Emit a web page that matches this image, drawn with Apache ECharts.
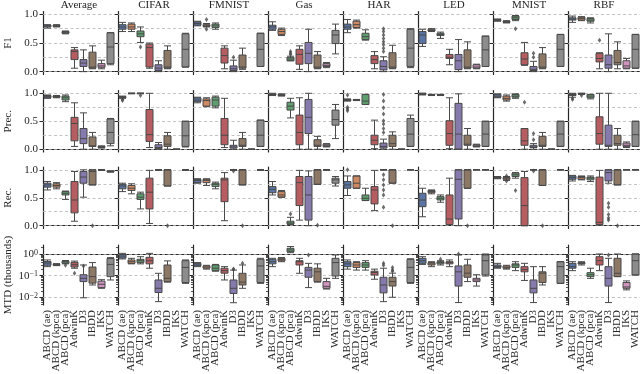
<!DOCTYPE html>
<html>
<head>
<meta charset="utf-8">
<script src="https://cdn.jsdelivr.net/npm/echarts@6/dist/echarts.min.js"></script>
<style>
  html, body { margin: 0; padding: 0; background: #fff; }
  #chart { width: 640px; height: 374px; }
</style>
</head>
<body>
<div id="chart"></div>
<script>
// columns of the figure and the detectors on each x axis
const datasets = ['Average', 'CIFAR', 'FMNIST', 'Gas', 'HAR', 'LED', 'MNIST', 'RBF'];
const methods = ['ABCD (ae)', 'ABCD (kpca)', 'ABCD (pca)', 'AdwinK', 'D3', 'IBDD', 'IKS', 'WATCH'];
const metrics = ['F1', 'Prec.', 'Rec.', 'MTD (thousands)'];
const linearTicks = [0, 0.5, 1];
const linearGrid = [0, 0.25, 0.5, 0.75, 1];
const logTicks = [0.01, 0.1, 1];
const logMinorTicks = [0.005, 0.006, 0.007, 0.008, 0.009, 0.02, 0.03, 0.04, 0.05, 0.06, 0.07, 0.08, 0.09,
  0.2, 0.3, 0.4, 0.5, 0.6, 0.7, 0.8, 0.9, 2];

// box = [min, Q1, median, Q3, max]; one row per dataset, one box per method (null = not run)
const f1 = [
  [[0.76,0.78,0.80,0.81,0.82],[0.78,0.79,0.80,0.81,0.82],[0.66,0.67,0.68,0.70,0.71],[0.06,0.21,0.35,0.38,0.42],[0.00,0.09,0.15,0.21,0.38],[0.05,0.06,0.08,0.34,0.45],[0.05,0.075,0.10,0.14,0.20],[0.12,0.14,0.43,0.68,0.68]],
  [[0.70,0.74,0.78,0.82,0.86],[0.70,0.74,0.78,0.83,0.85],[0.51,0.61,0.66,0.71,0.78],[0.06,0.08,0.42,0.48,0.50],[0.00,0.02,0.06,0.12,0.19],[0.05,0.06,0.08,0.37,0.45],null,[0.08,0.08,0.39,0.66,0.67]],
  [[0.80,0.81,0.84,0.87,0.88],[0.78,0.79,0.80,0.82,0.84],[0.74,0.77,0.80,0.83,0.85],[0.05,0.15,0.28,0.41,0.45],[0.00,0.02,0.05,0.10,0.20],[0.04,0.06,0.08,0.29,0.41],null,[0.09,0.09,0.39,0.67,0.67]],
  [[0.72,0.74,0.78,0.81,0.87],[0.63,0.65,0.70,0.74,0.76],[0.19,0.19,0.22,0.25,0.27],[0.04,0.13,0.30,0.39,0.45],[0.00,0.14,0.32,0.51,0.74],[0.05,0.06,0.08,0.29,0.35],[0.07,0.09,0.11,0.14,0.16],[0.31,0.49,0.64,0.72,0.83]],
  [[0.68,0.74,0.78,0.83,0.91],[0.76,0.77,0.82,0.88,0.90],[0.55,0.56,0.61,0.67,0.73],[0.05,0.14,0.21,0.28,0.35],[0.00,0.03,0.09,0.19,0.26],[0.05,0.06,0.08,0.33,0.46],null,[0.07,0.09,0.41,0.74,0.75]],
  [[0.44,0.49,0.64,0.70,0.74],[0.70,0.71,0.72,0.74,0.75],[0.58,0.63,0.65,0.67,0.69],[0.12,0.23,0.25,0.30,0.39],[0.00,0.035,0.19,0.30,0.56],[0.05,0.06,0.08,0.38,0.52],[0.05,0.06,0.08,0.12,0.13],[0.09,0.09,0.38,0.62,0.62]],
  [[0.88,0.89,0.90,0.91,0.92],[0.85,0.86,0.87,0.88,0.89],[0.89,0.91,0.94,0.97,0.98],[0.11,0.12,0.22,0.33,0.51],[0.00,0.02,0.04,0.09,0.18],[0.05,0.06,0.08,0.31,0.42],null,[0.09,0.09,0.39,0.65,0.65]],
  [[0.86,0.90,0.92,0.94,0.97],[0.89,0.90,0.93,0.95,0.96],[0.85,0.88,0.90,0.93,0.94],[0.05,0.17,0.23,0.32,0.33],[0.00,0.06,0.12,0.29,0.66],[0.05,0.12,0.16,0.37,0.52],[0.05,0.06,0.10,0.19,0.23],[0.06,0.06,0.39,0.65,0.65]]
];
const prec = [
  [[0.91,0.92,0.94,0.96,0.97],[0.92,0.93,0.94,0.95,0.96],[0.85,0.88,0.92,0.95,0.97],[0.05,0.15,0.46,0.57,0.83],[0.00,0.10,0.19,0.37,0.65],[0.00,0.05,0.06,0.22,0.30],[0.02,0.03,0.04,0.05,0.06],[0.06,0.10,0.30,0.54,0.55]],
  [[0.91,0.92,0.93,0.94,0.95],[0.99,1,1,1,1],[0.99,1,1,1,1],[0.03,0.14,0.26,0.71,1.00],[0.00,0.01,0.03,0.08,0.12],[0.00,0.05,0.09,0.24,0.30],[0,0,0,0,0],[0.04,0.05,0.24,0.50,0.50]],
  [[0.83,0.85,0.88,0.92,0.93],[0.76,0.77,0.87,0.90,0.92],[0.74,0.77,0.88,0.93,0.95],[0.03,0.08,0.25,0.55,0.91],[0.00,0.02,0.04,0.07,0.16],[0.00,0.05,0.07,0.19,0.30],[0,0,0,0,0],[0.05,0.05,0.25,0.52,0.52]],
  [[0.96,0.97,0.98,0.99,1.00],[0.95,0.96,0.97,0.98,0.99],[0.56,0.70,0.77,0.84,0.91],[0.00,0.08,0.30,0.61,0.92],[0.00,0.28,0.57,0.89,1.00],[0.00,0.05,0.07,0.17,0.23],[0.04,0.05,0.07,0.09,0.10],[0.19,0.43,0.53,0.70,0.80]],
  [[0.86,0.87,0.88,0.89,0.90],[0.87,0.875,0.88,0.885,0.89],[0.80,0.80,0.86,0.98,0.98],[0.01,0.08,0.16,0.25,0.52],[0.00,0.02,0.05,0.11,0.18],[0.00,0.05,0.10,0.25,0.31],[0,0,0,0,0],[0.05,0.05,0.27,0.55,0.61]],
  [[0.97,0.98,0.99,1.00,1.00],[0.96,0.97,0.97,0.98,0.98],[0.96,0.97,0.97,0.98,0.98],[0.01,0.07,0.28,0.51,0.92],[0.00,0.00,0.27,0.82,0.99],[0.00,0.07,0.09,0.25,0.37],[0.04,0.05,0.06,0.08,0.09],[0.05,0.05,0.27,0.50,0.50]],
  [[0.92,0.93,0.95,0.98,0.99],[0.86,0.88,0.91,0.95,0.97],[0.91,0.93,0.95,0.98,0.99],[0.00,0.07,0.15,0.37,0.37],[0.00,0.03,0.04,0.07,0.10],[0.00,0.05,0.07,0.23,0.30],[0,0,0,0,0],[0.05,0.05,0.27,0.50,0.50]],
  [[0.93,0.96,0.98,0.99,1.00],[0.98,0.99,0.99,1.00,1.00],[0.90,0.92,0.95,0.98,0.98],[0.00,0.09,0.28,0.58,1.00],[0.00,0.05,0.07,0.43,1.00],[0.00,0.07,0.10,0.25,0.37],[0.03,0.05,0.07,0.11,0.13],[0.05,0.05,0.26,0.50,0.50]]
];
const rec = [
  [[0.64,0.69,0.73,0.76,0.79],[0.66,0.69,0.72,0.75,0.77],[0.47,0.55,0.58,0.61,0.62],[0.08,0.23,0.46,0.79,0.97],[0.51,0.76,0.87,0.97,1.00],[0.73,0.73,0.97,1.00,1.00],[0.99,1,1,1,1],[0.96,0.96,0.97,0.98,0.98]],
  [[0.61,0.66,0.71,0.74,0.76],[0.57,0.63,0.67,0.72,0.75],[0.30,0.47,0.51,0.57,0.60],[0.04,0.30,0.60,0.85,0.99],[0.99,1,1,1,1],[0.71,0.71,1.00,1.00,1.00],null,[0.99,1,1,1,1]],
  [[0.76,0.77,0.81,0.83,0.84],[0.72,0.77,0.81,0.83,0.84],[0.66,0.70,0.74,0.76,0.78],[0.09,0.43,0.82,0.85,0.95],[0.99,1,1,1,1],[0.73,0.73,1.00,1.00,1.00],null,[0.99,1,1,1,1]],
  [[0.55,0.59,0.65,0.70,0.79],[0.51,0.51,0.55,0.61,0.63],[0.02,0.03,0.05,0.08,0.15],[0.10,0.36,0.77,0.88,0.99],[0.00,0.10,0.55,0.88,0.98],[0.74,0.74,1.00,1.00,1.00],[0.99,1,1,1,1],[0.71,0.76,0.82,0.85,0.88]],
  [[0.54,0.67,0.73,0.79,0.89],[0.67,0.67,0.76,0.89,0.89],[0.45,0.45,0.49,0.55,0.67],[0.27,0.39,0.64,0.70,0.99],[1,1,1,1,1],[0.76,0.76,1.00,1.00,1.00],null,[1,1,1,1,1]],
  [[0.16,0.34,0.46,0.58,0.67],[0.57,0.59,0.61,0.63,0.64],[0.42,0.46,0.49,0.52,0.55],[0.02,0.02,0.12,0.55,0.85],[0.00,0.12,0.83,1.00,1.00],[0.67,0.67,1.00,1.00,1.00],[1,1,1,1,1],[1,1,1,1,1]],
  [[0.84,0.85,0.86,0.87,0.88],[0.81,0.83,0.85,0.86,0.88],[0.85,0.88,0.91,0.94,0.95],[0.00,0.00,0.36,0.86,0.97],[1,1,1,1,1],[0.72,0.72,1.00,1.00,1.00],null,[1,1,1,1,1]],
  [[0.80,0.83,0.86,0.89,0.90],[0.82,0.83,0.86,0.88,0.89],[0.79,0.82,0.85,0.87,0.89],[0.01,0.02,0.06,0.87,0.99],[0.76,0.80,0.95,1.00,1.00],[0.73,0.73,1.00,1.00,1.00],[1,1,1,1,1],[1,1,1,1,1]]
];
const mtd = [
  [[0.26,0.30,0.38,0.45,0.53],[0.29,0.30,0.32,0.33,0.36],[0.35,0.37,0.43,0.46,0.50],[0.22,0.25,0.32,0.41,0.47],[0.0095,0.053,0.075,0.11,0.31],[0.037,0.045,0.09,0.25,0.40],[0.026,0.028,0.040,0.056,0.065],[0.063,0.09,0.33,0.62,0.68]],
  [[0.59,0.65,0.80,0.95,1.07],[0.35,0.37,0.44,0.53,0.63],[0.35,0.40,0.49,0.57,0.75],[0.22,0.35,0.49,0.70,1.07],[0.0063,0.0166,0.026,0.063,0.128],[0.05,0.053,0.075,0.31,0.48],null,[0.044,0.048,0.24,0.49,0.53]],
  [[0.26,0.28,0.31,0.37,0.40],[0.20,0.22,0.25,0.28,0.30],[0.16,0.17,0.22,0.31,0.33],[0.063,0.13,0.17,0.22,0.26],[0.0056,0.015,0.026,0.063,0.18],[0.026,0.037,0.05,0.128,0.31],null,[0.044,0.048,0.28,0.57,0.63]],
  [[0.26,0.35,0.44,0.57,0.63],[0.44,0.48,0.55,0.63,0.69],[1.15,1.28,1.53,1.83,2.2],[0.128,0.31,0.44,0.49,0.63],[0.028,0.084,0.18,0.24,0.37],[0.05,0.053,0.15,0.22,0.35],[0.024,0.026,0.032,0.053,0.075],[0.075,0.096,0.40,0.63,0.90]],
  [[0.20,0.26,0.35,0.44,0.53],[0.18,0.24,0.31,0.40,0.44],[0.18,0.24,0.31,0.40,0.49],[0.068,0.107,0.14,0.16,0.20],[0.0063,0.016,0.037,0.084,0.22],[0.01,0.033,0.053,0.084,0.13],null,[0.044,0.048,0.24,0.57,0.60]],
  [[0.33,0.37,0.49,0.63,0.75],[0.26,0.31,0.35,0.40,0.44],[0.31,0.35,0.40,0.44,0.49],[0.26,0.35,0.40,0.44,0.53],[0.0057,0.033,0.15,0.28,0.90],[0.053,0.084,0.13,0.31,0.57],[0.033,0.053,0.063,0.075,0.11],[0.096,0.107,0.49,0.90,1.00]],
  [[0.22,0.24,0.26,0.31,0.37],[0.20,0.22,0.24,0.28,0.30],[0.17,0.24,0.31,0.35,0.44],[0.06,0.15,0.19,0.26,0.37],[0.0057,0.016,0.026,0.063,0.26],[0.037,0.048,0.13,0.15,0.26],null,[0.044,0.044,0.26,0.44,0.44]],
  [[0.17,0.22,0.26,0.37,0.44],[0.31,0.35,0.37,0.40,0.44],[0.075,0.09,0.11,0.137,0.22],[0.17,0.31,0.49,0.75,1.00],[0.0057,0.033,0.075,0.26,0.63],[0.09,0.09,0.128,0.63,1.00],[0.022,0.026,0.030,0.048,0.057],[0.107,0.107,0.49,1.00,1.00]]
];

// outliers: [dataset index, method index, value]
const f1Out = [[1,2,0.43],[2,1,0.91],[2,1,0.74],[2,4,0.25],[3,2,0.35],[3,2,0.32],[3,2,0.30],
  [4,4,0.75],[4,4,0.70],[4,4,0.64],[4,4,0.58],[4,4,0.52],[4,4,0.47],[4,4,0.41],[4,4,0.35],
  [6,2,0.75],[6,4,0.32],[6,4,0.25],[7,3,0.55]];
const precOut = [[1,0,0.89],[1,0,0.87],[1,2,0.96],[4,0,0.97],[4,0,0.75],[4,0,0.72],[4,0,0.69],
  [4,4,0.98],[4,4,0.86],[4,4,0.74],[4,4,0.63],[4,4,0.51],[4,4,0.45],[4,4,0.37],[4,4,0.30],
  [6,3,0.84],[6,4,0.28],[6,4,0.17],[7,0,0.91],[7,0,0.89],[7,1,0.96]];
const recOut = [[0,5,0.0],[1,5,0.0],[2,4,0.98],[2,5,0.0],[3,2,0.21],[3,5,0.01],
  [4,0,1.0],[4,4,0.91],[4,4,0.82],[4,4,0.73],[4,4,0.64],[4,4,0.55],[4,4,0.33],[4,5,0.0],
  [5,5,0.0],[6,1,0.89],[6,1,0.80],[6,2,0.63],[6,4,0.98],[6,5,0.0],
  [7,4,0.40],[7,4,0.33],[7,4,0.20],[7,4,0.14],[7,4,0.10],[7,5,0.0]];
const mtdOut = [[0,2,0.30],[0,3,0.13],[0,4,0.28],[2,4,0.20],[2,4,0.19],[2,5,0.37],[3,4,0.9],
  [4,4,0.37],[4,4,0.30],[4,5,0.24],[4,5,0.18],[4,5,0.16],[5,2,0.57],[5,4,1.0],[7,4,0.9]];

const palette = ['#5975a4', '#cc8963', '#5f9e6e', '#b55d60', '#857aab', '#8d7866', '#d095bf', '#8c8c8c'];
const FONT = 'Liberation Serif';
const INK = '#262626';
const LINE = '#494949';

const rows = [
  { boxes: f1, out: f1Out, log: false },
  { boxes: prec, out: precOut, log: false },
  { boxes: rec, out: recOut, log: false },
  { boxes: mtd, out: mtdOut, log: true }
];
const rowTop = [11.5, 90.5, 167, 245];
const rowH = [63, 61.5, 61.5, 60];
const colLeft = c => 43 + 75 * c;
const colW = 72;
const logMin = Math.log10(0.0044), logMax = Math.log10(2.6);

const tf = (v, log) => log ? Math.log10(v) : v;
const sup = v => v < 0 ? '\u2212' + (-v) : String(v);

const grid = [], xAxis = [], yAxis = [], series = [], graphic = [];
const gridStyle = { color: '#b4b4b4', width: 0.8, type: [3, 2.5] };

rows.forEach((row, r) => {
  datasets.forEach((ds, c) => {
    const idx = r * 8 + c;
    grid.push({ left: colLeft(c), top: rowTop[r], width: colW, height: rowH[r], outerBoundsMode: 'none' });
    xAxis.push({
      gridIndex: idx, type: 'category', data: methods, boundaryGap: true,
      axisLine: { lineStyle: { color: INK, width: 1.2 } },
      axisTick: { alignWithLabel: true, length: 3.5, lineStyle: { color: INK, width: 1 } },
      axisLabel: { show: r === 3, rotate: 90, interval: 0, fontFamily: FONT, fontSize: 11, color: INK, margin: 5 },
      splitLine: { show: false }
    });
    const ticks = row.log ? logTicks.map(Math.log10) : linearTicks;
    yAxis.push({
      gridIndex: idx, type: 'value', position: 'left',
      min: row.log ? logMin : -0.05,
      max: row.log ? logMax : 1.05,
      axisLine: { show: true, lineStyle: { color: INK, width: 1.2 } },
      axisTick: { show: true, length: 3.5, customValues: ticks, lineStyle: { color: INK, width: 1 } },
      axisLabel: {
        show: c === 0, customValues: ticks, fontFamily: FONT, fontSize: 11, color: INK, margin: 5,
        formatter: row.log ? (v => '10{s|' + sup(Math.round(v)) + '}') : (v => v.toFixed(1)),
        rich: { s: { fontSize: 8, fontFamily: FONT, color: INK, verticalAlign: 'top', lineHeight: 8 } }
      },
      splitLine: { show: false },
      name: c === 0 ? metrics[r] : '', nameLocation: 'middle', nameGap: 29,
      nameTextStyle: { fontFamily: FONT, fontSize: 11, color: INK }
    });
    const gl = row.log ? logTicks.map(Math.log10) : linearGrid;
    const data = [];
    row.boxes[c].forEach((b, k) => {
      if (!b) return;
      data.push({
        value: [k].concat(b.map(v => tf(v, row.log))),
        itemStyle: { color: palette[k], borderColor: LINE, borderWidth: 1 }
      });
    });
    series.push({
      type: 'boxplot', xAxisIndex: idx, yAxisIndex: idx,
      encode: { x: 0, y: [1, 2, 3, 4, 5] },
      boxWidth: [7, 7], data: data, silent: true, z: 3,
      markLine: {
        silent: true, symbol: 'none', z: 1, label: { show: false },
        lineStyle: gridStyle, animation: false,
        data: gl.map(v => ({ yAxis: v }))
      }
    });
    series.push({
      type: 'scatter', xAxisIndex: idx, yAxisIndex: idx, silent: true, z: 4,
      symbol: 'diamond', symbolSize: [3.5, 5],
      itemStyle: { color: LINE },
      data: row.out.filter(o => o[0] === c).map(o => [o[1], tf(o[2], row.log)])
    });
  });
});

// minor ticks of the log-scaled MTD row (extra, label-less axes on the same grids)
datasets.forEach((ds, c) => {
  yAxis.push({
    gridIndex: 24 + c, type: 'value', position: 'left', min: logMin, max: logMax,
    axisLine: { show: false },
    axisTick: { show: true, length: 2, customValues: logMinorTicks.map(Math.log10), lineStyle: { color: INK, width: 0.8 } },
    axisLabel: { show: false },
    splitLine: { show: false }
  });
});

datasets.forEach((ds, c) => {
  graphic.push({
    type: 'text', x: colLeft(c) + colW / 2, y: 5,
    style: { text: ds, fill: INK, fontFamily: FONT, fontSize: 11, align: 'center', verticalAlign: 'middle' }
  });
});

const chart = echarts.init(document.getElementById('chart'), null, { renderer: 'canvas' });
chart.setOption({
  animation: false,
  backgroundColor: '#fff',
  grid, xAxis, yAxis, series, graphic
});
</script>
</body>
</html>
